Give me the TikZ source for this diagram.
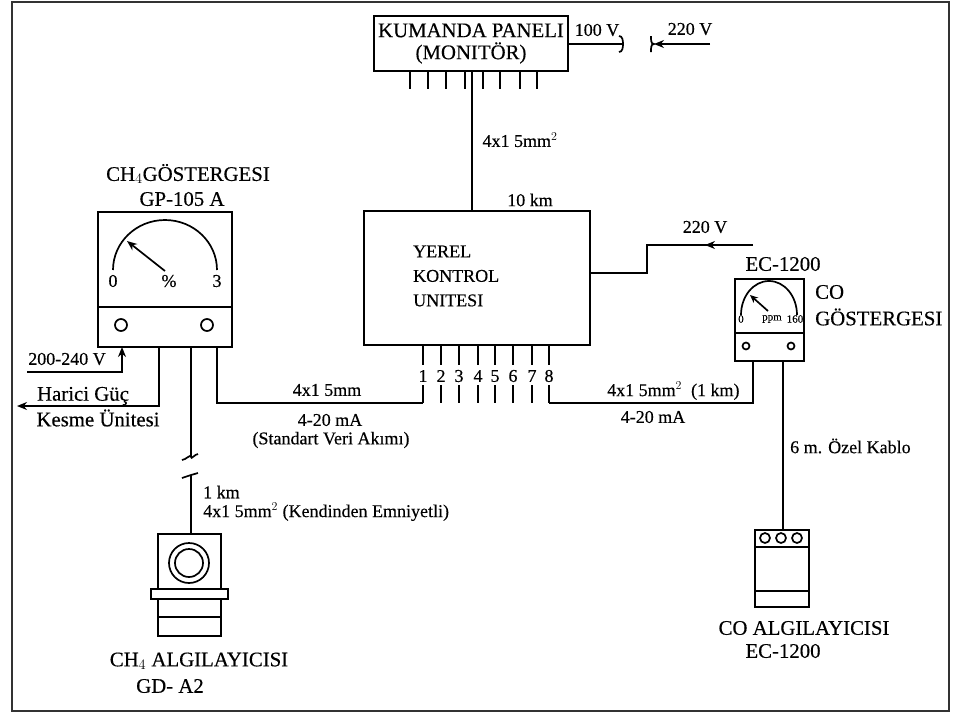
\documentclass[tikz,border=0pt]{standalone}
\usepackage{fontspec}
\setmainfont{Liberation Serif}[FakeBold=0.35]
\usetikzlibrary{arrows.meta}
\tikzset{
  unitbox/.style={draw,line width=1.7pt,inner sep=0pt,outer sep=0pt},
  wire/.style={line width=1.7pt},
  feed/.style={wire,-{Stealth[length=10pt,width=8pt]}},
  biglabel/.style={inner sep=0pt,font=\fontsize{20.8}{22}\selectfont},
  smalllabel/.style={inner sep=0pt,font=\fontsize{18}{20}\selectfont},
  tinylabel/.style={inner sep=0pt,font=\fontsize{11}{12}\selectfont}
}
\begin{document}
\begin{tikzpicture}[x=1pt,y=-1pt]
        \useasboundingbox (0,0) rectangle (959,713);
        % frame
        \draw[line width=1.5pt,black!80] (12,2) rectangle (949,711);
        % Kumanda paneli
        \node[unitbox,minimum width=194pt,minimum height=55pt,align=center,biglabel] (panel) at (471,43.5) {KUMANDA PANELI\\(MONITÖR)};
        \foreach \x in {410,428,446,465,483,500,520,537}
            \draw[wire] (\x,71) -- (\x,89);
        \node[smalllabel] (v100) at (597,30) {100 V};
        \node[smalllabel] (v220a) at (690,29) {220 V};
        \coordinate (brk1) at (622,44);
        \coordinate (brk2) at (654,44);
        \coordinate (src1) at (710,44);
        \draw[wire] (panel.east |- brk1) -- (brk1);
        \draw[wire] (619,36) to[out=0,in=90] (623,44) to[out=-90,in=0] (619,52);
        \draw[feed] (src1) -- (brk2);
        \draw[wire] (651,36) to[out=-90,in=180] (654,44) to[out=180,in=90] (651,52);
        \node[smalllabel] (panelcable) at (520,140) {4x1 5mm$^{2}$};
        \node[smalllabel] (panelkm) at (530,200) {10 km};
        % Yerel kontrol
        \node[unitbox,minimum width=226pt,minimum height=134pt] (yerel) at (477,278) {};
        \node[biglabel,align=left,anchor=west,font=\fontsize{18}{24.5}\selectfont] (yereltext) at (413,276) {YEREL\\KONTROL\\UNITESI};
        \draw[wire] (panel.south -| 472,0) -- (yerel.north -| 472,0);
        \foreach \x/\i in {423/1,441/2,459/3,478/4,495/5,513/6,532/7,549/8} {
            \node[smalllabel] (n\i) at (\x,376) {\i};
            \draw[wire] (yerel.south -| n\i) -- (\x,365);
            \draw[wire] (\x,385) -- (\x,403);
        }
        % 220 V feed
        \coordinate (src2) at (753,245);
        \coordinate (bend) at (647,273);
        \node[smalllabel] (v220b) at (705,227) {220 V};
        \draw[wire] (yerel.east |- bend) -- (bend) -- (bend |- src2) -- (src2);
        \draw[feed] (src2) -- (705,245);
        % CH4 gauge
        \node[biglabel] (chtitle) at (188,174) {CH$_{4}$GÖSTERGESI};
        \node[biglabel] (chmodel) at (182,199) {GP-105 A};
        \node[unitbox,minimum width=134pt,minimum height=135pt] (chgauge) at (165,279.5) {};
        \draw[wire] (chgauge.west |- 0,307) -- (chgauge.east |- 0,307);
        \draw[wire] (113,270) arc[start angle=180,end angle=360,x radius=52,y radius=50];
        \draw[feed] (165,271) -- (127,241);
        \node[smalllabel] (chzero) at (113,281) {0};
        \node[smalllabel] (chpct) at (169,281) {\%};
        \node[smalllabel] (chthree) at (217,281) {3};
        \draw[wire] (121,325) circle (6);
        \draw[wire] (207,325) circle (6);
        % CH4 gauge connections
        \node[smalllabel] (chsupply) at (67,359) {200-240 V};
        \coordinate (supply) at (27,372);
        \coordinate (cutoff) at (17,406);
        \draw[feed] (supply) -- (122,372) -- (122,0 |- chgauge.south);
        \draw[feed] (chgauge.south -| 159,0) -- (159,406) -- (cutoff);
        \node[biglabel] (guc) at (83,396) {Harici Güç};
        \node[biglabel] (kesme) at (98,418) {Kesme Ünitesi};
        \draw[wire] (chgauge.south -| 217,0) -- (217,403) -- (n1 |- 0,403);
        \node[smalllabel] (cable1) at (327,390) {4x1 5mm};
        \node[smalllabel] (signal1) at (330,420) {4-20 mA};
        \node[smalllabel] (stream) at (331,440) {(Standart Veri Akımı)};
        % CH4 sensor
        \node[unitbox,minimum width=63pt,minimum height=55pt] (chsensor) at (189.5,561.5) {};
        \node[unitbox,minimum width=77pt,minimum height=10pt] (chflange) at (189.5,594) {};
        \node[unitbox,minimum width=63pt,minimum height=37pt] (chbase) at (189.5,617.5) {};
        \draw[wire] (chbase.west |- 0,617) -- (chbase.east |- 0,617);
        \draw[wire] (189,563) circle (20);
        \draw[wire] (189,563) circle (14);
        \draw[wire] (chgauge.south -| 191,0) -- (191,457);
        \draw[wire] (182,460) to[out=0,in=90] (191,457) to[out=-90,in=180] (198,454);
        \draw[wire] (182,478) to[out=0,in=180] (191,475) to[out=0,in=180] (198,473);
        \draw[wire] (191,475) -- (chsensor.north -| 191,0);
        \node[smalllabel,anchor=west] (chkm) at (203,492) {1 km};
        \node[smalllabel,anchor=west] (chcable) at (203,512) {4x1 5mm$^{2}$ (Kendinden Emniyetli)};
        \node[biglabel] (chname) at (199,661) {CH$_{4}$ ALGILAYICISI};
        \node[biglabel] (chtype) at (170,686) {GD- A2};
        % CO gauge
        \node[biglabel] (cotitle) at (783,264) {EC-1200};
        \node[unitbox,minimum width=69pt,minimum height=82pt] (cogauge) at (769.5,320) {};
        \draw[wire] (cogauge.west |- 0,333) -- (cogauge.east |- 0,333);
        \draw[wire] (741,315) arc[start angle=180,end angle=360,x radius=28,y radius=34];
        \draw[wire,-{Stealth[length=8pt,width=7pt]}] (768,311) -- (750,295);
        \node[tinylabel] (cozero) at (741,319) {0};
        \node[tinylabel] (coppm) at (772,319) {ppm};
        \node[tinylabel] (comax) at (795,319) {160};
        \draw[wire] (746,346) circle (3.5);
        \draw[wire] (791,346) circle (3.5);
        \node[biglabel,anchor=west] (coname) at (815,292) {CO};
        \node[biglabel,anchor=west] (coname2) at (815,317) {GÖSTERGESI};
        \draw[wire] (n8 |- 0,403) -- (753,403) -- (cogauge.south -| 753,0);
        \node[smalllabel,anchor=west] (cable2) at (607,391) {4x1 5mm$^{2}$ \ (1 km)};
        \node[smalllabel] (signal2) at (653,417) {4-20 mA};
        % CO sensor
        \node[unitbox,minimum width=54pt,minimum height=77pt] (cosensor) at (782,568.5) {};
        \draw[wire] (cosensor.west |- 0,547) -- (cosensor.east |- 0,547);
        \draw[wire] (cosensor.west |- 0,591) -- (cosensor.east |- 0,591);
        \foreach \x in {765,781,797}
            \draw[wire] (\x,538) circle (5);
        \draw[wire] (cogauge.south -| 783,0) -- (cosensor.north -| 783,0);
        \node[smalllabel,anchor=west] (cokablo) at (790,446) {6 m. Özel Kablo};
        \node[biglabel] (coalg) at (804,628) {CO ALGILAYICISI};
        \node[biglabel] (cotype) at (783,651) {EC-1200};
    \end{tikzpicture}
\end{document}
